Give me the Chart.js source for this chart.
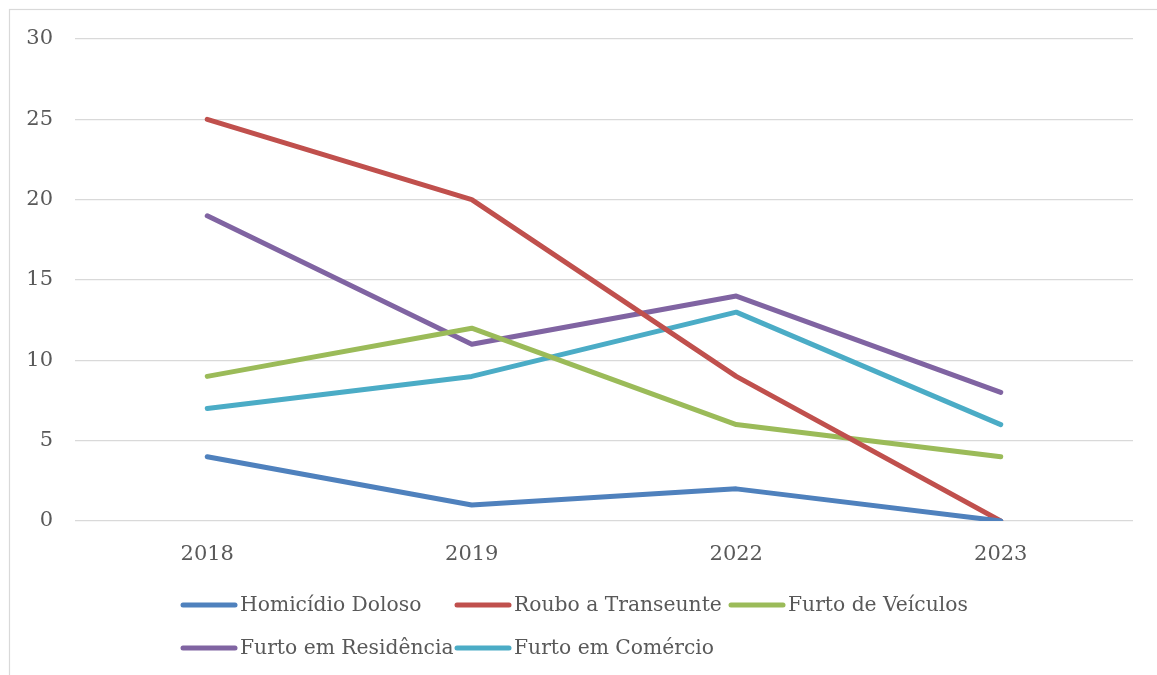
<!DOCTYPE html>
<html>
<head>
<meta charset="utf-8">
<script src="https://cdn.jsdelivr.net/npm/chart.js@4.4.0/dist/chart.umd.min.js"></script>
<style>
  html, body { margin: 0; padding: 0; background: #fff; }
  #wrap { width: 1157px; height: 675px; position: relative; }
</style>
</head>
<body>
<div id="wrap"><canvas id="myChart" width="1157" height="675"></canvas></div>
<script>
// categories and series
var years = ["2018", "2019", "2022", "2023"];
var homicidio = [4, 1, 2, 0];
var roubo = [25, 20, 9, 0];
var furtoVeiculos = [9, 12, 6, 4];
var furtoResidencia = [19, 11, 14, 8];
var furtoComercio = [7, 9, 13, 6];
var yTicks = [0, 5, 10, 15, 20, 25, 30];

var seriesNames = ["Homicídio Doloso", "Roubo a Transeunte", "Furto de Veículos", "Furto em Residência", "Furto em Comércio"];
var seriesColors = ["#4f81bd", "#c0504d", "#9bbb59", "#8064a2", "#4bacc6"];
var seriesData = [homicidio, roubo, furtoVeiculos, furtoResidencia, furtoComercio];

var textColor = "#595959";
var fontFamily = "'DejaVu Serif', 'Liberation Serif', serif";

// white background + the thin frame on the left/top
var framePlugin = {
    id: "frame",
    beforeDraw: function (chart) {
        var c = chart.ctx;
        c.save();
        c.fillStyle = "#fff";
        c.fillRect(0, 0, chart.width, chart.height);
        c.strokeStyle = "#d9d9d9";
        c.lineWidth = 1.2;
        c.strokeRect(9.5, 9.5, chart.width + 20, chart.height + 20);
        c.restore();
    }
};

// excel style legend, 3 columns grid
var legendPlugin = {
    id: "gridLegend",
    afterDraw: function (chart) {
        var c = chart.ctx;
        var startX = 181, colW = 274, startY = 605, rowH = 43;
        c.save();
        c.font = "20.3px " + fontFamily;
        c.textBaseline = "middle";
        c.fillStyle = textColor;
        chart.data.datasets.forEach(function (ds, i) {
            var x = startX + (i % 3) * colW;
            var y = startY + Math.floor(i / 3) * rowH;
            c.beginPath();
            c.strokeStyle = ds.borderColor;
            c.lineWidth = 5;
            c.lineCap = "round";
            c.moveTo(x + 2, y);
            c.lineTo(x + 54, y);
            c.stroke();
            c.fillText(ds.label, x + 59, y + 1);
        });
        c.restore();
    }
};

var datasets = seriesNames.map(function (name, i) {
    return {
        label: name,
        data: seriesData[i],
        borderColor: seriesColors[i],
        backgroundColor: seriesColors[i],
        borderWidth: 5,
        borderCapStyle: "round",
        borderJoinStyle: "round",
        pointRadius: 0,
        tension: 0,
        fill: false
    };
});

var ctx = document.getElementById("myChart").getContext("2d");
var chart = new Chart(ctx, {
    type: "line",
    data: {
        labels: years,
        datasets: datasets
    },
    options: {
        responsive: false,
        animation: false,
        layout: { padding: { top: 39, right: 24, bottom: 100, left: 0 } },
        plugins: {
            legend: { display: false },
            tooltip: { enabled: false }
        },
        scales: {
            x: {
                offset: true,
                grid: { display: false },
                border: { display: false },
                ticks: { color: textColor, font: { family: fontFamily, size: 21 }, padding: 13 },
                afterFit: function (scale) { scale.height = 54; }
            },
            y: {
                min: 0,
                max: 30,
                afterBuildTicks: function (scale) {
                    scale.ticks = yTicks.map(function (v) { return { value: v }; });
                },
                grid: { color: "#d9d9d9", lineWidth: 1.3, drawTicks: false },
                border: { display: false },
                ticks: { color: textColor, font: { family: fontFamily, size: 21 }, padding: 22 },
                afterFit: function (scale) { scale.width = 75; }
            }
        }
    },
    plugins: [framePlugin, legendPlugin]
});
</script>
</body>
</html>
